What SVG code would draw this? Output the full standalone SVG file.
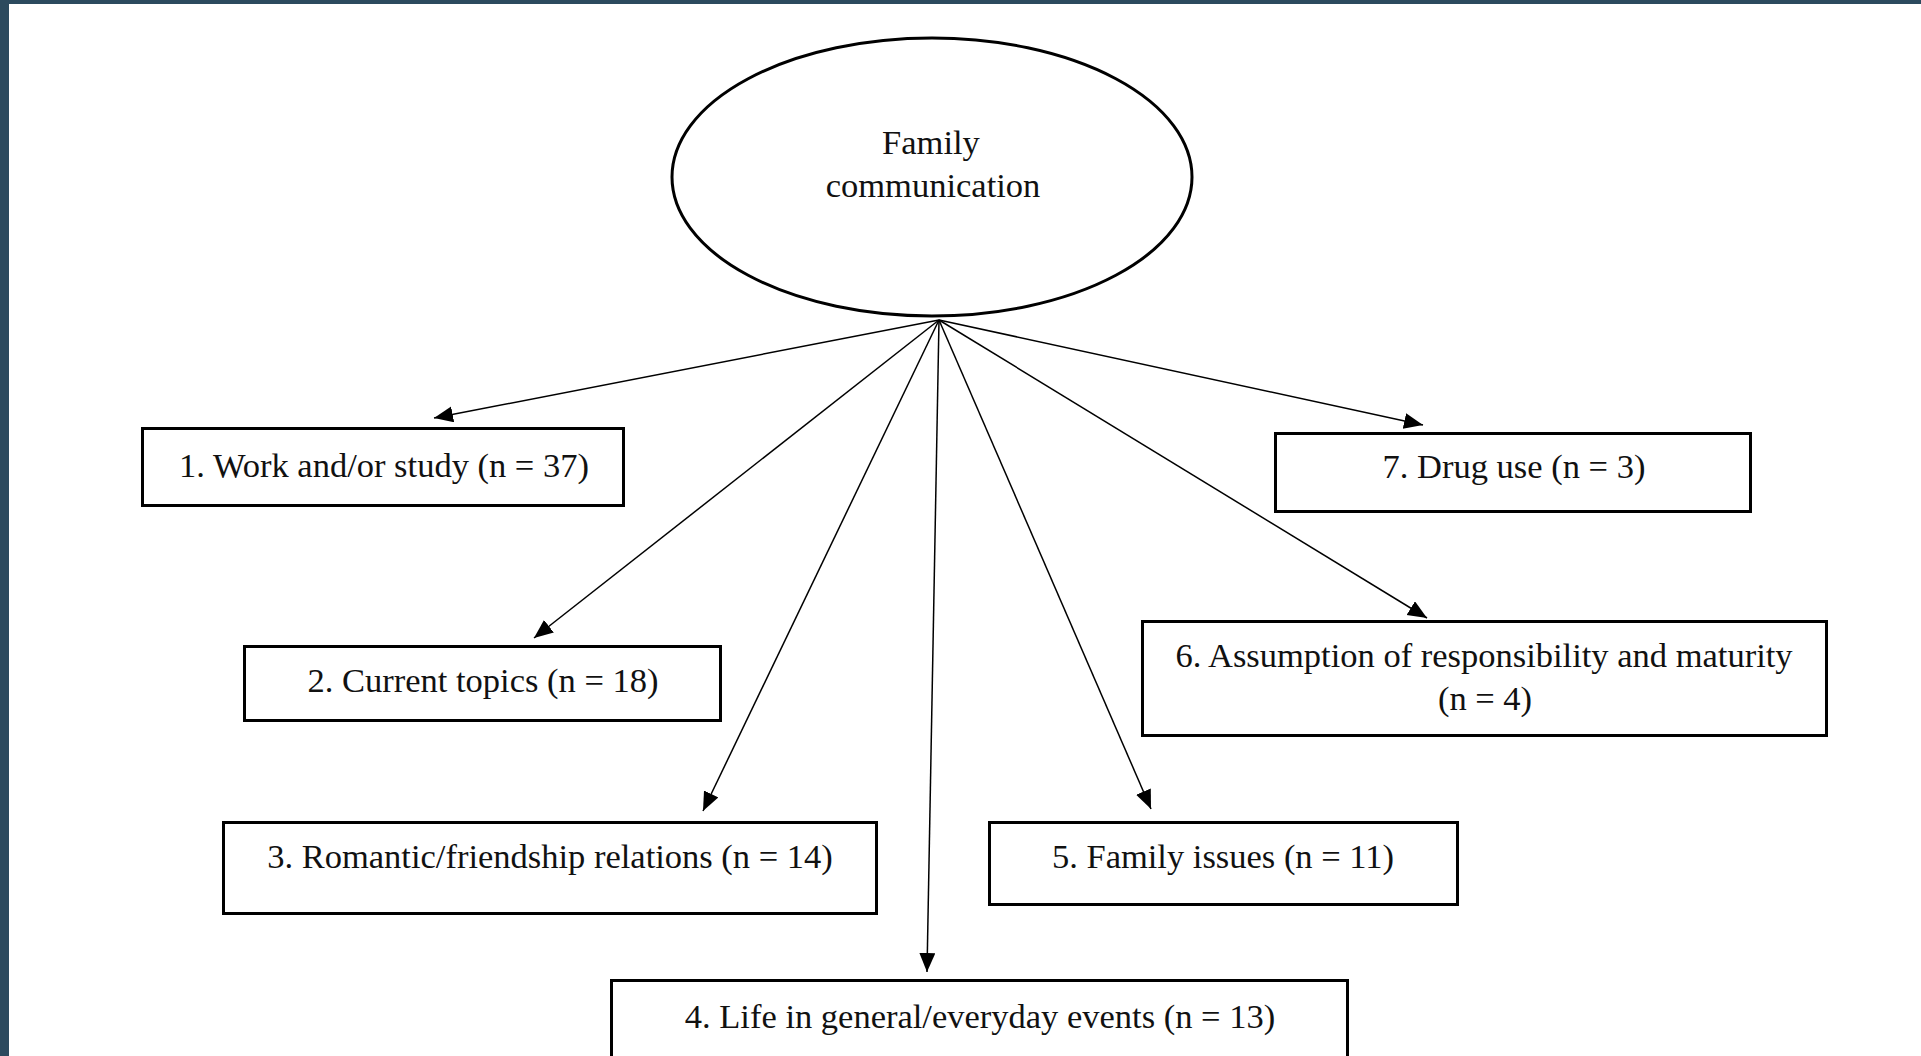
<svg xmlns="http://www.w3.org/2000/svg" width="1921" height="1056" viewBox="0 0 1921 1056">
  <style>
    .frame { fill: #2c4a5e; }
    .box { fill: #ffffff; stroke: #000000; stroke-width: 3; }
    .oval { fill: #ffffff; stroke: #000000; stroke-width: 3; }
    .lbl { font-family: "Liberation Serif", "Times New Roman", serif; font-size: 34.5px; fill: #111111; text-anchor: middle; }
    .edge { stroke: #000000; stroke-width: 1.5; fill: none; marker-end: url(#arrow); }
  </style>
  <defs>
    <marker id="arrow" markerUnits="userSpaceOnUse" markerWidth="20" markerHeight="18" refX="19" refY="8" orient="auto">
      <path d="M0,0 L19,8 L0,16 Z" fill="#000000"/>
    </marker>
  </defs>

  <rect x="0" y="0" width="1921" height="1056" fill="#ffffff"/>
  <!-- page frame -->
  <rect class="frame" x="0" y="0" width="1921" height="4"/>
  <rect class="frame" x="0" y="0" width="9" height="1056"/>

  <!-- connectors from the central topic -->
  <g id="connectors">
    <line class="edge" x1="939" y1="320" x2="434" y2="418"/>
    <line class="edge" x1="939" y1="320" x2="534" y2="638"/>
    <line class="edge" x1="939" y1="320" x2="703" y2="811"/>
    <line class="edge" x1="939" y1="320" x2="927" y2="972"/>
    <line class="edge" x1="939" y1="320" x2="1151" y2="809"/>
    <line class="edge" x1="939" y1="320" x2="1427" y2="618"/>
    <line class="edge" x1="939" y1="320" x2="1423" y2="425"/>
  </g>

  <g id="family-communication">
    <ellipse class="oval" cx="932" cy="177" rx="260" ry="139"/>
    <text class="lbl" x="931" y="154">Family</text>
    <text class="lbl" x="933" y="197">communication</text>
  </g>

  <g id="work-study">
    <rect class="box" x="142.5" y="428.5" width="481" height="77"/>
    <text class="lbl" x="384" y="477">1. Work and/or study (n = 37)</text>
  </g>

  <g id="current-topics">
    <rect class="box" x="244.5" y="646.5" width="476" height="74"/>
    <text class="lbl" x="483" y="692">2. Current topics (n = 18)</text>
  </g>

  <g id="romantic-friendship">
    <rect class="box" x="223.5" y="822.5" width="653" height="91"/>
    <text class="lbl" x="550" y="868">3. Romantic/friendship relations (n = 14)</text>
  </g>

  <g id="life-in-general">
    <rect class="box" x="611.5" y="980.5" width="736" height="100"/>
    <text class="lbl" x="980" y="1028">4. Life in general/everyday events (n = 13)</text>
  </g>

  <g id="family-issues">
    <rect class="box" x="989.5" y="822.5" width="468" height="82"/>
    <text class="lbl" x="1223" y="868">5. Family issues (n = 11)</text>
  </g>

  <g id="responsibility-maturity">
    <rect class="box" x="1142.5" y="621.5" width="684" height="114"/>
    <text class="lbl" x="1484" y="667">6. Assumption of responsibility and maturity</text>
    <text class="lbl" x="1485" y="710">(n = 4)</text>
  </g>

  <g id="drug-use">
    <rect class="box" x="1275.5" y="433.5" width="475" height="78"/>
    <text class="lbl" x="1514" y="478">7. Drug use (n = 3)</text>
  </g>
</svg>
